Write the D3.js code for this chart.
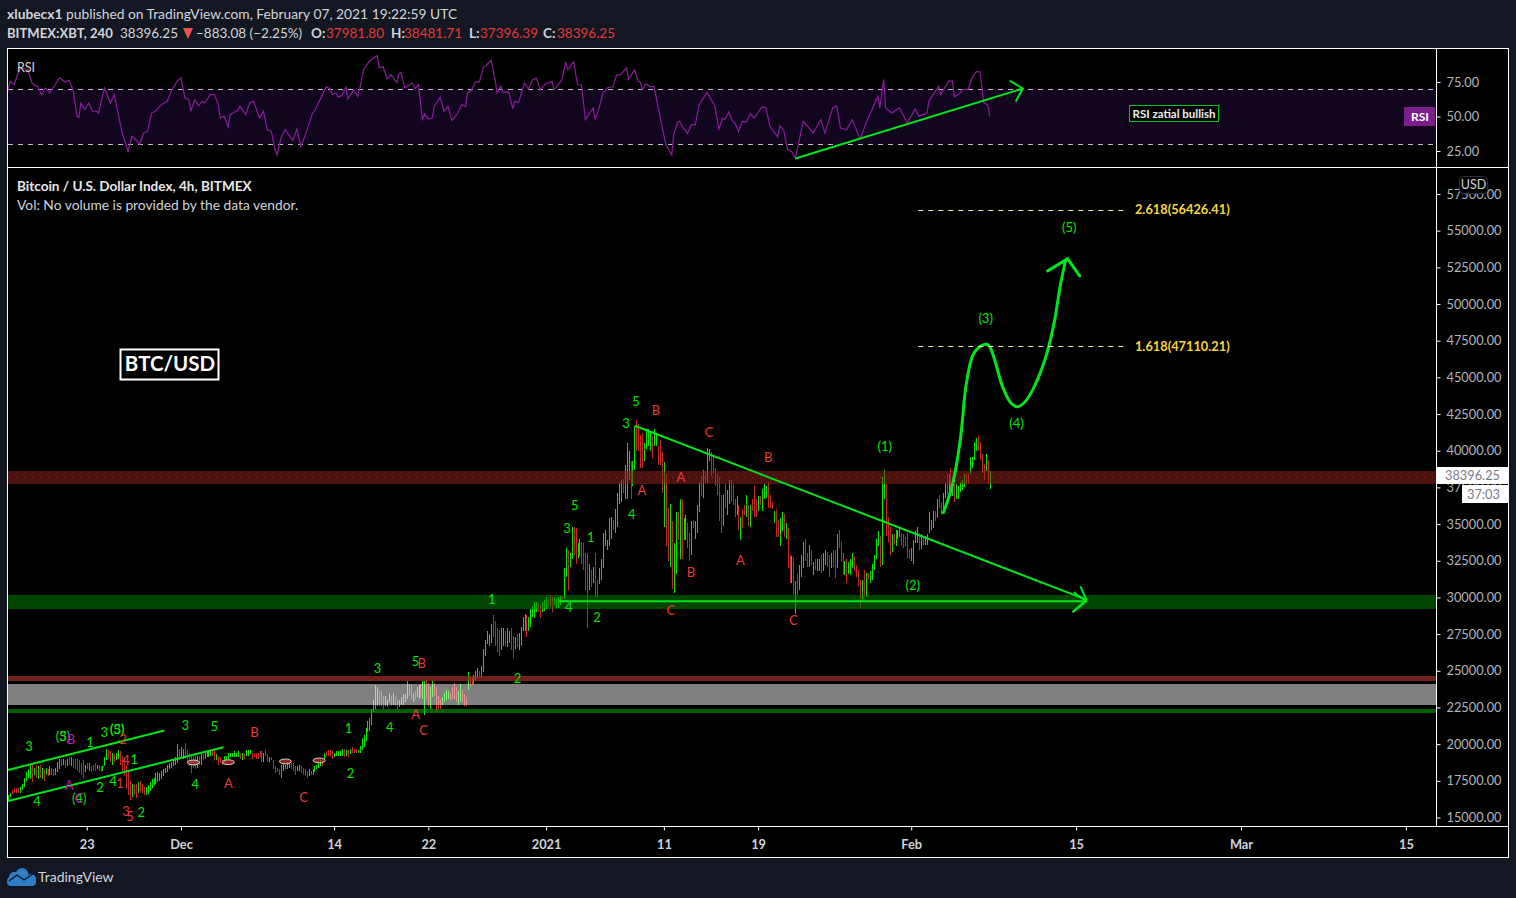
<!DOCTYPE html>
<html><head><meta charset="utf-8">
<script src="https://cdn.jsdelivr.net/npm/d3@7"></script>
<style>
html,body{margin:0;padding:0;background:#131722;overflow:hidden}
svg{display:block}
text{font-family:Lato,"Open Sans",sans-serif}
</style></head><body>
<svg id="c" width="1516" height="898"></svg>
<script>
// ---------- price bars (thousand USD, one bar per 4 hours, first bar 16 Nov 2020 04:00 UTC)
const barHigh=[
16.4,16.5,16.7,16.9,17,17,17,17.1,17.3,17.7,18.1,18.3,18.6,18.7,18.4,18.6,18.5,18.6,18.4,18.3,
18.4,18.3,18.5,18.4,18.3,18.4,18.8,19,19,19,18.9,19,19.1,19.1,19,19,19,18.9,18.7,18.9,
18.6,18.7,18.7,18.5,18.6,18.7,18.6,18.6,18.5,18.5,19.1,19.7,19.6,19.5,19.4,19.3,19.4,19.6,19.5,19.2,
19,18.6,18.2,17.5,17.3,17.2,17.3,17.4,17.5,17.3,17.1,17.1,17.2,17.4,17.6,17.7,18,18.1,18,18.2,
18.3,18.4,18.6,18.7,18.8,19,19.1,20,19.7,19.8,19.7,20.1,19.6,19.4,19.2,19.2,19.3,19.2,19.2,19.3,
19.3,19.4,19.5,19.5,19.6,19.7,19.6,19.3,19.2,19.1,18.9,19.2,19.2,19.4,19.4,19.4,19.5,19.4,19.5,19.4,
19.4,19.3,19.6,19.6,19.6,19.4,19.4,19.4,19.4,19.5,19.5,19.4,19.6,19.3,19.1,19.1,18.9,18.5,18.4,18.3,
18.6,18.7,18.6,18.8,18.7,18.7,18.7,18.5,18.5,18.6,18.5,18.4,18.3,18.2,18.3,18.2,18.3,18.5,18.6,18.7,
18.9,18.8,19.4,19.5,19.6,19.6,19.5,19.4,19.5,19.5,19.5,19.7,19.7,19.6,19.6,19.7,19.8,19.7,19.7,19.6,
19.9,20.4,20.6,21.1,21.6,21.8,22.4,23,24,23.9,23.7,23.6,23.3,23.3,23,23.5,23.3,23.5,23.3,23.1,
23,23.2,23.4,23.4,24.3,24.1,24,23.5,23.6,23.9,24,24.1,24.3,24.3,24.4,24.2,23.9,24.3,24.2,23.9,
23.3,23.1,23.2,23.5,23.7,23.6,23.5,23.9,24.2,23.9,23.6,24.1,23.7,23.4,23.2,24.9,24.5,24.5,24.7,25,
25.2,25,25.3,26.5,27.1,27.7,27.5,28.2,28.8,28.4,27.9,27.8,27.9,27.9,27.7,27.9,27.7,27.9,27.4,27.3,
27.5,27.6,28,28.7,28.9,28.8,28.7,29.2,29.4,29.7,29.7,29.6,29.5,29.7,29.8,30,29.9,30.2,30,30,
29.9,30,30.1,30.1,32,33.4,33.2,33,34.8,34.8,34.7,33.7,34,33.8,33.7,33,33,32.3,31.9,32.1,
33,31.2,32,32.6,34.4,34.6,33.9,35.4,35.5,35.3,36,37.1,37.8,38,38.1,39,40.5,40,39.3,39.3,
41.7,42.1,41.8,41.1,41.2,40.5,41.4,41.5,41.2,41,41.5,41.2,40.3,40.75,39.9,39.2,38.4,36.1,36.4,35.2,
33.7,35.8,35.8,36.7,36.7,35.4,35.6,35.1,34.4,35.2,35.3,35.2,36.3,37.9,38.3,38.7,38.6,40.2,40.1,39.9,
39.6,38.8,38.4,38.2,37,37,37.7,37.3,38,38,37.8,36.7,36.9,36.3,35.5,36,36.3,37,36.3,36.3,
36.7,37.6,36.7,36.9,36.9,37.4,37.7,37.6,37.9,37,36.5,35.9,36,35.3,35.4,35.8,35.7,35.1,34.7,32.9,
32.8,32.7,31.1,31.6,32.2,32.9,33.8,34,33,33.6,33.2,32.4,32.6,32.6,32.6,32.9,33,33.2,33.1,32.9,
33,33.2,33.2,34.3,34.6,33.8,33,32.5,32.6,32.4,32.6,33,32.8,32.2,31.9,31.2,31.2,31.9,31.7,31.7,
31.8,32.3,32.9,34,34.5,34.2,38.2,38.7,37.7,35.5,34.8,34.3,34.3,34.6,34.6,34.8,34.4,34.3,34.1,34.4,
33.3,33.4,33.9,34.5,34.8,34.4,34.3,34.2,34.2,34.3,35.8,35.3,35.9,35.9,36.7,37,36.5,37.1,37.8,38.4,
38.4,38.8,37.8,37.7,37.7,37.6,37.9,38,38.4,38.4,38.4,39.6,39.6,40.6,40.9,41,40.6,39.8,39.1,39.8,
39.4,38.6];
const barLow=[
16.1,16.2,16.4,16.6,16.7,16.7,16.7,16.7,16.9,17.1,17.5,17.7,17.6,17.4,17.9,17.7,17.6,17.7,17.6,17.5,
17.9,17.8,17.9,17.9,17.8,17.9,18.1,18.3,18.5,18.6,18.4,18.5,18.6,18.5,18.4,18.3,18.2,18,17.9,17.7,
18.1,18.3,18.2,18.1,18.2,18.2,18.3,18.2,18.1,18.2,18.5,18.9,19,18.8,18.6,18.8,18.9,19,18.6,18.2,
17.8,17,16.5,16.2,16.4,16.6,16.3,16.7,16.8,16.7,16.5,16.5,16.6,16.8,17,17.2,17.3,17.4,17.5,17.6,
17.8,18,18.1,18.3,18.4,18.5,18.6,18.7,18.9,19.1,19,19,18.7,18.5,18,18.4,18.3,18.4,18.6,18.6,
18.9,19,19.1,19.1,19.2,19.2,18.9,18.9,18.6,18.7,18.6,18.8,18.9,19,19.1,19.1,19.1,19.1,19.1,19,
18.95,19,19.2,19.2,19.3,19,19.1,19,19,19.1,18.8,18.8,19.2,18.8,18.8,18.9,18.3,18,18.1,17.9,
17.7,18.2,18.3,18.3,18.4,18.3,18.2,17.9,18.2,18.2,18,17.9,17.8,17.7,17.8,17.9,17.9,18.1,18.3,18.4,
18.5,18.5,18.9,19.2,19.2,19.2,19,19.1,19.2,19.2,19.2,19.2,19.1,19.2,19.1,19.3,19.4,19.4,19.4,19.4,
19.4,19.6,19.8,20.2,20.8,20.9,21.3,22.2,22.4,22.6,22.6,22.5,22.4,22.6,22.5,22.9,22.6,22.7,22.6,22.4,
22.5,22.7,22.7,22.9,23.1,23.3,23.1,22.9,23,23.2,23.1,23.2,23.1,22,23.1,22.5,22.4,23.2,23.3,22.2,
22.4,22.4,22.7,22.9,23,23.1,23,23.1,23.1,22.9,22.7,22.9,22.9,22.6,22.6,23.7,23.9,24,24.1,24.3,
24.5,24.6,24.6,24.9,26,26.8,26.7,26.9,27.3,26.7,26.3,26,26.4,26.7,26.7,26.6,26.9,26.4,25.9,26.5,
26.6,26.4,26.7,27.7,27.7,27.3,27.7,28,28.7,28.6,29,29,28.6,29,29.1,29.2,29.4,29.4,29,29.5,
29.3,29.3,29.5,29.8,29.9,31.4,30.5,32.1,32.6,32.9,32.3,32.7,32.8,32.3,31.9,30.5,27.9,30.5,30.7,31,
30,30,30.9,31.2,32,33.5,33.2,33.5,34,34.6,34.4,34.8,36.4,36.5,37.1,36.7,36.7,38,36.7,37.6,
38.7,40,40,38.8,38.8,39.3,40.1,40.3,40,39.5,40.3,40.3,39,39,37.1,34.8,33.5,32.5,32.1,30.6,
30.3,31.6,33.9,32.6,32.6,33.9,33.9,33.4,32.5,32.9,34.7,34,34.4,35.8,36.9,36.8,37.8,37.8,39.3,38.3,
38.5,37.6,37,35.2,34.4,34.9,36.1,35.6,36.4,36.5,36.3,35.5,35.6,34.6,33.9,34.7,35.6,35.5,34.9,34.8,
35.9,35.5,35.5,35.9,36.3,35.9,36.7,36.8,36.1,36.1,36,35.1,34.1,34.1,33.5,34.5,34.1,34,32,31,
31,30.2,28.9,30.2,30.5,31.4,32,32.5,32.1,32.1,32.2,31.5,31.9,31.8,31.8,31.7,31.8,32.2,32.1,31.4,
32,32.1,31.3,32,33.4,32.4,31.6,31.55,31,31.6,31.5,32,31.8,31.4,30.8,29.3,29.7,30.1,30,31.2,
31,31.2,31.9,32.6,33.5,32.1,32.2,36.7,34.2,33.8,32.9,33.1,33.6,33.5,34,34.1,33.5,33.4,33.5,32.7,
32.6,32.5,32.3,33.7,33.7,33.2,33.3,33.6,33.6,33.6,34.4,34.6,34.7,35.2,35.4,36.1,35.6,35.7,36.8,37,
37.3,37.5,36.9,36.5,36.7,36.7,37.2,37.3,37.5,37.7,37.7,38.4,38.8,39.4,40,40,39.4,38.5,38,38.6,
37.7,37.4];
const barRising=[
1,1,1,0,0,0,0,1,1,1,1,1,1,0,1,0,1,0,1,0,
1,0,1,0,0,1,1,1,0,1,0,1,0,1,0,0,0,0,0,0,
1,0,1,0,0,0,1,0,0,1,1,1,0,0,1,0,1,1,0,0,
0,0,0,0,1,0,0,1,0,0,0,1,1,1,1,1,1,1,1,1,
1,1,1,1,1,1,1,1,0,1,1,0,0,0,0,0,0,1,0,1,
0,1,1,1,1,0,0,1,0,0,0,1,1,1,1,1,1,1,1,0,
1,0,1,1,1,0,0,0,0,0,0,1,0,0,1,0,0,0,0,0,
1,1,1,1,1,0,0,0,1,1,0,0,0,0,1,0,1,1,1,1,
1,0,1,0,0,0,0,1,1,1,1,1,0,1,0,1,0,0,0,1,
1,1,1,1,1,1,1,1,1,1,0,0,0,1,1,1,0,1,0,0,
1,1,1,1,1,0,0,1,0,1,1,0,1,1,0,0,1,1,0,0,
0,0,1,1,1,1,0,0,0,0,1,1,0,0,0,1,0,0,1,1,
1,0,1,1,1,1,1,1,0,0,0,0,1,1,0,1,1,0,0,1,
0,1,1,1,1,0,1,1,1,1,1,0,0,1,1,1,0,0,0,1,
1,1,1,0,1,1,0,1,1,0,0,1,1,0,0,0,0,1,0,1,
0,0,1,1,1,1,1,1,1,0,1,1,1,1,0,1,1,1,0,1,
1,0,0,0,0,1,1,1,1,0,1,1,0,0,0,1,0,0,1,0,
1,1,0,1,0,1,1,0,0,1,0,1,1,1,0,1,0,1,1,0,
0,0,0,0,0,1,0,1,1,0,0,0,1,0,1,0,0,1,0,1,
0,0,0,1,0,1,1,1,0,0,0,1,0,0,1,1,0,1,0,0,
1,0,1,0,1,1,1,0,0,1,0,1,0,1,1,0,1,1,0,0,
1,0,0,1,0,0,0,1,0,1,1,1,0,0,0,0,1,0,1,0,
1,1,1,1,1,0,1,1,0,0,0,1,0,1,1,1,0,0,0,0,
0,1,1,1,1,0,1,0,1,1,1,1,1,0,1,0,0,1,1,0,
1,0,1,0,1,1,1,1,1,0,0,1,1,1,1,0,0,0,0,1,
0,1];

// ---------- RSI (bar index, value)
const rsiBar=[0,2,4,7,11,13,15,16,18,20,22,25,27,30,32,34,36,37,38,40,42,44,46,47,50,53,55,57,59,61,62,64,66,68,70,72,74,76,79,82,84,87,89,91,93,94,96,98,100,101,104,106,108,109,111,113,114,118,119,122,124,126,129,131,133,135,137,138,140,142,146,148,150,153,156,157,160,163,165,166,168,169,171,173,174,177,179,180,182,185,189,190,192,194,196,199,
200,201,203,207,208,210,212,213,215,217,218,221,223,225,227,230,232,234,235,237,239,241,243,247,249,250,252,253,256,258,259,261,264,266,268,270,272,275,278,279,283,285,286,289,291,293,295,299,300,302,304,306,309,311,313,316,317,320,322,323,324,326,328,330,333,336,339,340,342,343,345,346,347,349,351,353,357,361,363,365,366,368,370,371,373,375,377,379,381,385,387,389,393,394,396,398,400,
402,404,406,408,411,415,417,421,423,425,428,431,435,438,444,445,447,448,451,455,459,463,465,469,470,475,476,480,482,483,486,487,490,492,494,496,498,500,501];
const rsiValue=[64.7,75.6,73.2,85.3,84.1,74.4,71.9,71.9,65.9,70.7,67.1,73.2,78,75,76.3,69.5,50.1,49.4,59.8,55,59.8,53.8,53.8,52.5,70.7,59.8,65.9,52.5,38,29.5,24.7,35.6,33.2,30,38,39.2,52.5,53.8,58.6,61,68.3,75.6,78,63.5,62.2,53.8,62.2,57.9,61,59.8,65.9,65.9,58.6,48.9,50.1,42.4,51.3,54.5,57.4,51.3,59.8,61,48.9,53.8,40.4,39.2,25.9,22.2,34.9,40.4,32.7,40.9,28.3,39.2,52.5,53.8,62.7,71.5,70,65.9,67.1,64.2,65.1,71.5,62.7,69.5,64.7,69.5,84.1,90.1,94.2,85.3,86,77.3,80.4,74.4,
81.1,82,70.7,74.4,70,73.2,47.2,52,48.2,48.9,57.4,63.9,53.8,57.4,47.2,52.5,58.6,57.4,67.1,69,75.1,75.1,85.3,90.6,76.8,67.1,71.9,67.6,67.6,55.5,61,60.3,74.4,70,76.3,77.8,69.5,73.9,75.3,69.5,76.3,89.6,84.1,89.6,73.2,72.7,47.7,56.2,47.7,56.2,67.1,70.7,71.5,80.2,80.4,85.3,76.8,83.6,75.6,75.1,69.5,73.6,71.5,71.9,50.1,29.5,22.2,36.8,45.8,46.5,40.9,40.4,37.5,44.1,44.1,58.6,67.6,57.4,40.9,48.9,47.7,53.3,46.5,45.8,39.2,46.5,45.8,52,48.9,56.9,56.2,42.9,35.1,43.3,40.4,25.9,24.7,
19.8,33.2,46.5,43.3,38,47.7,38,56.2,57.9,41.6,40.4,47.7,33.6,45.3,64.7,56.2,76.8,56.2,52.5,56.2,45.3,55.5,50.1,52.5,61,71.9,65.9,75.6,75.6,64.2,67.1,69.5,69.5,78,82.4,82.4,59.8,58.6,50.1];

// ---------- axes
const priceTicks=[15000,17500,20000,22500,25000,27500,30000,32500,35000,37500,40000,42500,45000,47500,50000,52500,55000,57500];
const rsiTicks=[25,50,75];
const rsiLevels=[70,30];
const timeTicks=["2020-11-23","2020-12-01","2020-12-14","2020-12-22","2021-01-01","2021-01-11","2021-01-19","2021-02-01","2021-02-15","2021-03-01","2021-03-15"];
const timeLabels=["23","Dec","14","22","2021","11","19","Feb","15","Mar","15"];

// ---------- horizontal zones (thousand USD)
const zoneFrom=[37.75,29.23,24.29,22.70,22.14];
const zoneTo=[38.64,30.15,24.63,24.11,22.40];
const zoneColor=["rgba(139,35,25,.55)","rgba(0,128,0,.55)","rgba(170,50,40,.65)","rgba(255,255,255,.5)","rgba(0,160,0,.6)"];

// ---------- fibonacci targets
const fibRatio=["1.618","2.618"];
const fibPrice=[47110.21,56426.41];
const fibBars=[464.6,571.4];

// ---------- trend lines: [bar, price] pairs
const lineUpperChannel=[[0.87,18.24],[80.5,20.93]];
const lineLowerChannel=[[0.87,16.12],[110.6,19.79]];
const lineTriangleTop=[[320.25,41.7],[550.2,29.85]];
const lineTriangleTopHead=[[547.2,30.76],[550.2,29.85],[543.2,28.99]];
const lineSupport=[[281.5,29.74],[550,29.74]];
const lineSupportHead=[[543.8,30.35],[550,29.74],[543.2,28.99]];
const projection=[[477.4,35.78],[482,37.68],[486,40.75],[489,44.49],[492.5,46.54],[496.6,47.15],[500.2,47.22],[503.2,46.33],[507.2,44.49],[511.3,43.34],[514.9,43],[519,43.34],[523.4,44.29],[529.1,46.2],[533.6,48.58],[537,51.3],[539.7,53]];
const projectionHead=[[530.5,52.26],[540.7,53.08],[546.8,51.92]];
const rsiTrend=[[402,19.6],[517.9,70.3]];
const rsiTrendHead=[[511.2,76],[517.9,70.3],[514.2,60.9]];

// ---------- wave labels
const waveText=["3","(3)","5","1","3","(3)","(5)","1","4","2","4","(4)","2","3","5","4","1","2","3","4","5","1","2","3","5","1","4","2","4","3","5","(1)","(2)","(3)","(4)","(5)"];
const waveBar=[11.6,28.9,28.9,42.7,49.9,56.5,56.5,65.2,54.4,47.8,15.7,37.1,68.7,91.2,105.9,96.3,174.3,175.4,189.1,195.3,208.5,247.3,260.5,285.6,289.6,297.8,286.6,300.9,318.7,315.7,320.8,447.5,461.8,498.9,514.6,541.5];
const wavePrice=[19.84,20.52,20.52,20.12,20.8,21,21,18.96,17.48,17.05,16.1,16.33,15.35,21.27,21.2,17.25,21.07,18,25.15,21.14,25.63,29.85,24.47,34.69,36.25,34.08,29.31,28.63,35.64,41.84,43.34,40.27,30.81,48.99,41.84,55.25];
const redText=["2","4","1","3","5","B","A","C","B","A","C","B","A","A","C","B","C","B","A","C"];
const redBar=[59.5,61,58,61,63,126.4,113.1,151.4,211.6,208.5,212.6,330.9,323.8,343.7,338.6,348.8,358,388.1,374,400.9];
const redPrice=[20.3,18.9,17.3,15.42,15.08,20.8,17.32,16.37,25.5,22.02,20.93,42.72,37.28,38.16,29.1,31.69,41.23,39.52,32.51,28.42];
const magentaText=["B","A","C"];
const magentaBar=[33,32,37.1];
const magentaPrice=[20.32,17.19,16.33];
const markBar=[95.3,113.1,142.2,159.4];
const markPrice=[18.75,18.77,18.82,18.89];

// ---------- layout
const svg=d3.select("#c");
const L=7.5,R=1508.5,T=48.5,B=857.5,AX=1436.5,RB=167.5,TB=826.5;
svg.append("rect").attr("x",L).attr("y",T).attr("width",R-L).attr("height",B-T).attr("fill","#000");
const defs=svg.append("defs");
defs.append("clipPath").attr("id","pm").append("rect").attr("x",8).attr("y",168).attr("width",AX-8).attr("height",TB-168);
defs.append("clipPath").attr("id","pr").append("rect").attr("x",8).attr("y",49).attr("width",AX-8).attr("height",RB-49);

const start=Date.UTC(2020,10,16,4);
const x=d3.scaleUtc().domain([new Date(Date.UTC(2020,11,1)),new Date(Date.UTC(2021,2,1))]).range([181,1241]);
const xBar=i=>x(new Date(start+i*4*3600e3));
const y=d3.scaleLinear().domain([15000,57500]).range([817.5,194]);
const yk=k=>y(k*1000);
const yr=d3.scaleLinear().domain([25,75]).range([151,82]);

// RSI pane
const rp=svg.append("g").attr("clip-path","url(#pr)");
rp.append("rect").attr("x",8).attr("width",AX-8).attr("y",yr(70)).attr("height",yr(30)-yr(70)).attr("fill","#12051e");
rp.selectAll("line.lv").data(rsiLevels).join("line").attr("x1",8).attr("x2",AX)
  .attr("y1",d=>Math.round(yr(d))+.5).attr("y2",d=>Math.round(yr(d))+.5)
  .attr("stroke","#c9b6d0").attr("stroke-dasharray","5,5");
rp.append("path").attr("fill","none").attr("stroke","#8a1c9a").attr("stroke-width",1.2)
  .attr("d",d3.line().x((d,i)=>xBar(rsiBar[i])).y(d=>yr(d))(rsiValue));
const lineK=d3.line().x(d=>xBar(d[0])).y(d=>yk(d[1]));
const lineR=d3.line().x(d=>xBar(d[0])).y(d=>yr(d[1]));
rp.append("path").attr("d",lineR(rsiTrend)).attr("fill","none").attr("stroke","#00e61a").attr("stroke-width",2);
svg.append("path").attr("d",lineR(rsiTrendHead)).attr("fill","none").attr("stroke","#00e61a").attr("stroke-width",2);

// Main pane
const mp=svg.append("g").attr("clip-path","url(#pm)");
mp.selectAll("rect.bar").data(barHigh).join("rect").attr("shape-rendering","crispEdges")
  .attr("x",(d,i)=>Math.round(xBar(i))).attr("width",1)
  .attr("y",d=>yk(d)).attr("height",(d,i)=>Math.max(1,yk(barLow[i])-yk(d)))
  .attr("fill",(d,i)=>barRising[i]?"#00e600":"#c62828");
mp.selectAll("rect.zone").data(zoneFrom).join("rect").attr("shape-rendering","crispEdges")
  .attr("x",8).attr("width",AX-8).attr("y",(d,i)=>yk(zoneTo[i])).attr("height",(d,i)=>yk(d)-yk(zoneTo[i]))
  .attr("fill",(d,i)=>zoneColor[i]);
mp.append("line").attr("x1",8).attr("x2",AX).attr("y1",477.5).attr("y2",477.5).attr("stroke","#7a3a32").attr("stroke-dasharray","1,7");

mp.selectAll("ellipse").data(markBar).join("ellipse")
  .attr("cx",d=>xBar(d)).attr("cy",(d,i)=>yk(markPrice[i])).attr("rx",6).attr("ry",2.4)
  .attr("fill","rgba(190,50,40,.75)").attr("stroke","#d8d8d8");

const g2="#00e61a";
[lineUpperChannel,lineLowerChannel,lineTriangleTop,lineTriangleTopHead,lineSupport,lineSupportHead].forEach(l=>{
  mp.append("path").attr("d",lineK(l)).attr("fill","none").attr("stroke",g2).attr("stroke-width",2);
});
mp.append("path").attr("d",lineK.curve(d3.curveCatmullRom)(projection)).attr("fill","none").attr("stroke",g2).attr("stroke-width",3).attr("stroke-linecap","round");
lineK.curve(d3.curveLinear);
mp.append("path").attr("d",lineK(projectionHead)).attr("fill","none").attr("stroke",g2).attr("stroke-width",3).attr("stroke-linecap","round");

// fibonacci
fibPrice.forEach((p,i)=>{
  mp.append("line").attr("x1",xBar(fibBars[0])).attr("x2",xBar(fibBars[1]))
    .attr("y1",Math.round(y(p))+.5).attr("y2",Math.round(y(p))+.5)
    .attr("stroke","#f2eeb0").attr("stroke-dasharray","5,5");
  mp.append("text").attr("x",xBar(fibBars[1])+7).attr("y",y(p)).attr("dy","0.35em")
    .attr("fill","#f5d63d").attr("font-size",12.8).attr("font-weight",700).text(fibRatio[i]+"("+p.toFixed(2)+")");
});

// wave labels
function labels(t,bx,pr,color){
  mp.append("g").selectAll("text").data(t).join("text")
    .attr("x",(d,i)=>xBar(bx[i])).attr("y",(d,i)=>yk(pr[i])).attr("dy","0.35em")
    .attr("text-anchor","middle").attr("font-size",13).attr("font-family","'Noto Sans'").attr("fill",color).text(d=>d);
}
labels(waveText,waveBar,wavePrice,"#00e600");
labels(redText,redBar,redPrice,"#e53935");
labels(magentaText,magentaBar,magentaPrice,"#b026b8");

// frame
const frame=svg.append("g").attr("stroke","#fff").attr("fill","none").attr("shape-rendering","crispEdges");
frame.append("rect").attr("x",L).attr("y",T).attr("width",R-L).attr("height",B-T);
frame.append("line").attr("x1",L).attr("x2",R).attr("y1",RB).attr("y2",RB);
frame.append("line").attr("x1",AX).attr("x2",AX).attr("y1",T).attr("y2",TB);
frame.append("line").attr("x1",L).attr("x2",R).attr("y1",TB).attr("y2",TB);

// axes
function styleAxis(g,col){
  g.select(".domain").remove();
  g.selectAll(".tick line").attr("stroke","#fff");
  g.selectAll("text").attr("fill",col).attr("font-size",12.8).attr("font-family","Lato");
}
svg.append("g").attr("transform",`translate(${AX},0)`)
  .call(d3.axisRight(y).tickValues(priceTicks).tickFormat(d=>d.toFixed(2)).tickSize(4).tickPadding(6))
  .call(g=>styleAxis(g,"#b2b5be"));
svg.append("g").attr("transform",`translate(${AX},0)`)
  .call(d3.axisRight(yr).tickValues(rsiTicks).tickFormat(d=>d.toFixed(2)).tickSize(4).tickPadding(6))
  .call(g=>styleAxis(g,"#b2b5be"));
const tickDates=timeTicks.map(s=>new Date(s+"T00:00:00Z"));
svg.append("g").attr("transform",`translate(0,${TB})`)
  .call(d3.axisBottom(x).tickValues(tickDates).tickFormat((d,i)=>timeLabels[i]).tickSize(4).tickPadding(9))
  .call(g=>styleAxis(g,"#d1d4dc"))
  .call(g=>g.selectAll("text").attr("font-weight",700));

// axis overlays
svg.append("rect").attr("x",1459.5).attr("y",176.5).attr("width",28).attr("height",17).attr("rx",4).attr("fill","#000").attr("stroke","#2a2e39");
svg.append("text").attr("x",1473.5).attr("y",185).attr("dy","0.35em").attr("text-anchor","middle").attr("fill","#d1d4dc").attr("font-size",12.5).text("USD");
svg.append("rect").attr("x",1437).attr("y",467).attr("width",71).attr("height",17).attr("fill","#fff");
svg.append("text").attr("x",1445).attr("y",475.5).attr("dy","0.35em").attr("fill","#787b86").attr("font-size",12.8).text("38396.25");
svg.append("rect").attr("x",1462).attr("y",485).attr("width",46).attr("height",18).attr("fill","#fff");
svg.append("text").attr("x",1467).attr("y",494.5).attr("dy","0.35em").attr("fill","#787b86").attr("font-size",12.8).text("37:03");
svg.append("rect").attr("x",1404).attr("y",107).attr("width",31).attr("height",19).attr("fill","#7b1f8c");
svg.append("text").attr("x",1420).attr("y",116.5).attr("dy","0.35em").attr("text-anchor","middle").attr("fill","#fff").attr("font-size",12).attr("font-weight",700).text("RSI");

// pane captions
svg.append("text").attr("x",17).attr("y",72).attr("fill","#d1d4dc").attr("font-size",12.5).text("RSI");
svg.append("text").attr("x",17).attr("y",191).attr("fill","#e8e8e8").attr("font-size",13.55).attr("font-weight",700).text("Bitcoin / U.S. Dollar Index, 4h, BITMEX");
svg.append("text").attr("x",17).attr("y",210).attr("fill","#d1d4dc").attr("font-size",13.8).text("Vol: No volume is provided by the data vendor.");

// note boxes
svg.append("rect").attr("x",120.5).attr("y",349.5).attr("width",98).attr("height",30).attr("fill","#000").attr("stroke","#fff").attr("stroke-width",2);
svg.append("text").attr("x",170).attr("y",363.5).attr("dy","0.35em").attr("text-anchor","middle").attr("fill","#fff").attr("font-size",20.5).attr("font-weight",700).text("BTC/USD");
svg.append("rect").attr("x",1129.5).attr("y",105.5).attr("width",89).attr("height",16).attr("fill","#000").attr("stroke","#00c81a");
svg.append("text").attr("x",1174).attr("y",113.5).attr("dy","0.35em").attr("text-anchor","middle").attr("fill","#f0f0f0").attr("font-size",11.5).attr("font-weight",700).text("RSI zatial bullish");

// header
svg.append("text").attr("x",7).attr("y",19).attr("fill","#d1d4dc").attr("font-size",13.8)
  .call(t=>{t.append("tspan").attr("font-weight",700).text("xlubecx1");t.append("tspan").text(" published on TradingView.com, February 07, 2021 19:22:59 UTC");});
const h2=[["BITMEX:XBT, 240",7,"#d1d4dc",700,13.1],["38396.25",120,"#d1d4dc",400,13.5],["\u2212883.08 (\u22122.25%)",196,"#d1d4dc",400,13.5],
 ["O:",311,"#d1d4dc",700,13.5],["37981.80",326,"#e53935",400,13.5],["H:",391,"#d1d4dc",700,13.5],["38481.71",404,"#e53935",400,13.5],
 ["L:",469,"#d1d4dc",700,13.5],["37396.39",480,"#e53935",400,13.5],["C:",543,"#d1d4dc",700,13.5],["38396.25",557,"#e53935",400,13.5]];
h2.forEach(r=>svg.append("text").attr("x",r[1]).attr("y",38).attr("fill",r[2]).attr("font-size",r[4]).attr("font-weight",r[3]).text(r[0]));
svg.append("path").attr("d","M183 28 L193 28 L188 39 Z").attr("fill","#ef5350");

// footer logo
const lg=svg.append("g").attr("fill","#2f7ec7");
lg.append("rect").attr("x",7).attr("y",877).attr("width",29).attr("height",9).attr("rx",4);
lg.append("circle").attr("cx",14).attr("cy",877).attr("r",5);
lg.append("circle").attr("cx",22).attr("cy",874.5).attr("r",6.5);
lg.append("circle").attr("cx",31).attr("cy",879).attr("r",5);
svg.append("path").attr("d","M9 881 L17 875 L24 880 L34 873").attr("fill","none").attr("stroke","#131722").attr("stroke-width",1.4);
svg.append("text").attr("x",38).attr("y",882).attr("fill","#d1d4dc").attr("font-size",14).text("TradingView");
</script>
</body></html>
